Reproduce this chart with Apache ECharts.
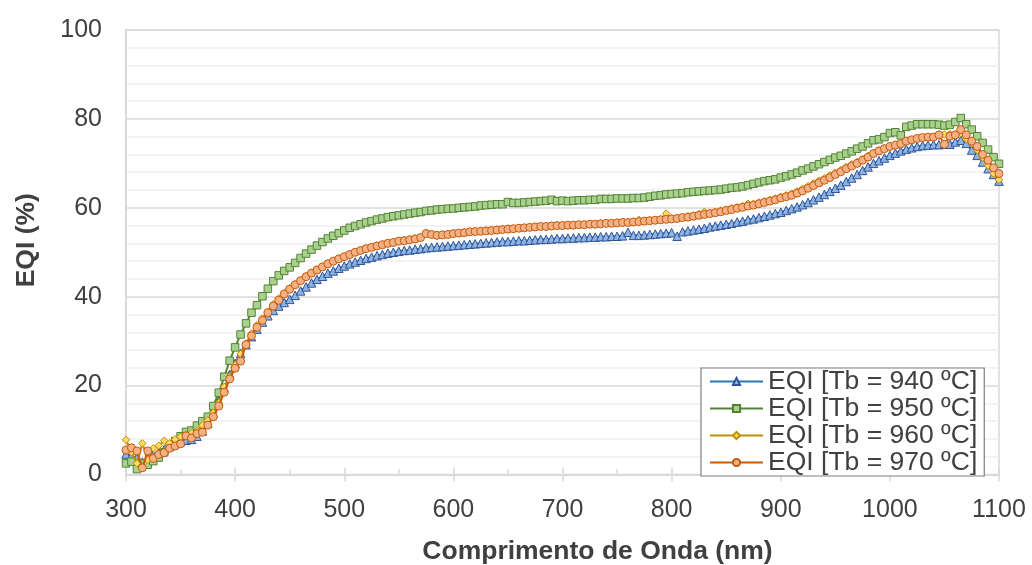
<!DOCTYPE html>
<html>
<head>
<meta charset="utf-8">
<script src="https://cdn.jsdelivr.net/npm/echarts@6/dist/echarts.min.js"></script>
<style>html,body{margin:0;padding:0;background:#fff;}#c{width:1032px;height:565px;}</style>
</head>
<body>
<div id="c"></div>
<script>
const wavelengths = [
300,305,310,315,320,325,330,335,340,345,
350,355,360,365,370,375,380,385,390,395,
400,405,410,415,420,425,430,435,440,445,
450,455,460,465,470,475,480,485,490,495,
500,505,510,515,520,525,530,535,540,545,
550,555,560,565,570,575,580,585,590,595,
600,605,610,615,620,625,630,635,640,645,
650,655,660,665,670,675,680,685,690,695,
700,705,710,715,720,725,730,735,740,745,
750,755,760,765,770,775,780,785,790,795,
800,805,810,815,820,825,830,835,840,845,
850,855,860,865,870,875,880,885,890,895,
900,905,910,915,920,925,930,935,940,945,
950,955,960,965,970,975,980,985,990,995,
1000,1005,1010,1015,1020,1025,1030,1035,1040,1045,
1050,1055,1060,1065,1070,1075,1080,1085,1090,1095,
1100];

const eqi940 = [
4.6,4.2,3.8,2.8,3.5,4.3,5.0,5.6,6.3,7.0,
7.4,7.7,7.9,8.6,9.8,11.5,13.8,16.5,19.5,22.5,
25.0,27.2,29.2,31.0,32.7,34.3,35.7,36.9,37.9,38.7,
39.4,40.3,41.3,42.2,43.1,43.9,44.6,45.3,45.8,46.4,
46.9,47.4,47.8,48.2,48.6,48.9,49.2,49.5,49.8,50.0,
50.2,50.4,50.5,50.7,50.8,51.0,51.1,51.2,51.3,51.4,
51.5,51.6,51.7,51.8,51.9,52.0,52.1,52.2,52.3,52.4,
52.4,52.5,52.6,52.6,52.7,52.8,52.9,52.9,53.0,53.1,
53.1,53.2,53.2,53.3,53.3,53.4,53.4,53.5,53.5,53.6,
53.6,53.7,54.5,53.8,53.8,53.9,54.0,54.1,54.2,54.3,
54.4,53.6,54.6,54.8,55.0,55.2,55.4,55.7,55.9,56.1,
56.3,56.5,56.8,57.0,57.3,57.5,57.8,58.1,58.4,58.7,
59.0,59.4,59.8,60.2,60.7,61.2,61.8,62.4,63.0,63.7,
64.4,65.1,65.9,66.7,67.5,68.4,69.2,70.0,70.6,71.2,
71.8,72.3,72.8,73.2,73.5,73.8,74.0,74.1,74.2,74.2,
74.3,74.3,74.8,75.2,74.5,73.0,71.8,70.3,68.8,67.5,
66.0];

const eqi950 = [
2.5,2.9,1.2,2.5,2.2,3.0,3.8,5.0,6.3,7.5,
8.6,9.6,9.9,11.0,12.0,13.0,15.4,18.4,22.0,25.6,
28.6,31.5,34.0,36.4,38.1,40.1,41.8,43.5,44.8,45.8,
46.6,47.6,48.7,49.7,50.6,51.5,52.3,53.1,53.7,54.3,
54.9,55.5,55.9,56.3,56.7,57.0,57.35,57.6,57.9,58.1,
58.3,58.5,58.7,58.9,59.05,59.3,59.4,59.6,59.7,59.8,
59.85,60.0,60.1,60.2,60.3,60.5,60.6,60.7,60.8,60.8,
61.3,61.1,61.1,61.2,61.3,61.4,61.5,61.6,61.8,61.5,
61.6,61.5,61.6,61.7,61.7,61.8,61.8,62.0,62.0,62.0,
62.1,62.1,62.1,62.2,62.2,62.3,62.5,62.7,62.8,63.0,
63.1,63.2,63.3,63.5,63.6,63.7,63.8,63.9,64.0,64.1,
64.3,64.5,64.6,64.8,65.1,65.4,65.7,66.0,66.2,66.4,
66.8,67.1,67.5,67.9,68.4,68.8,69.3,69.8,70.3,70.8,
71.3,71.7,72.2,72.7,73.3,73.8,74.5,75.2,75.4,75.9,
76.8,77.0,76.3,78.2,78.5,78.8,78.8,78.8,78.8,78.7,
78.5,78.7,79.3,80.2,78.8,77.6,76.1,74.6,73.1,71.4,
69.9];

const eqi960 = [
7.8,5.0,2.5,7.0,3.3,5.9,6.5,7.6,7.0,7.9,
8.5,8.9,9.3,9.8,11.1,12.2,13.9,16.1,19.7,22.0,
24.6,27.1,29.5,31.7,33.6,35.1,36.6,38.3,39.6,40.8,
41.9,42.8,43.7,44.6,45.4,46.1,46.8,47.5,48.1,48.6,
49.1,49.6,50.1,50.5,50.9,51.2,51.5,51.8,52.1,52.3,
52.5,52.7,52.9,53.1,53.4,54.4,54.0,53.9,54.0,54.1,
54.2,54.3,54.5,54.6,54.7,54.8,54.9,55.0,55.1,55.2,
55.3,55.3,55.4,55.5,55.6,55.7,55.8,55.9,56.0,56.0,
56.1,56.1,56.2,56.2,56.3,56.3,56.4,56.5,56.5,56.6,
56.7,56.7,56.8,56.9,57.3,57.1,57.2,57.3,57.4,58.7,
57.6,57.7,57.9,58.1,58.3,58.6,59.1,58.8,59.1,59.4,
59.6,59.9,60.1,60.4,60.9,60.9,61.2,61.5,61.8,62.1,
62.5,62.8,63.2,63.7,64.3,64.9,65.5,66.1,66.7,67.3,
67.9,68.5,69.2,69.8,70.3,71.0,71.7,72.3,72.9,73.4,
73.8,74.2,74.5,75.0,75.3,75.5,75.7,75.8,75.9,76.2,
76.5,76.6,76.5,76.8,75.5,74.5,73.0,71.3,69.5,67.7,
66.3];

const eqi970 = [
5.5,6.0,5.3,1.5,5.3,3.6,4.5,4.9,5.9,6.4,
6.9,8.7,8.2,9.2,9.5,11.1,13.0,15.4,18.5,21.5,
23.9,25.5,29.2,31.2,33.1,34.7,36.4,37.9,39.2,40.6,
41.7,42.7,43.6,44.5,45.3,46.0,46.7,47.4,48.0,48.5,
49.0,49.5,50.0,50.4,50.8,51.1,51.4,51.7,52.0,52.2,
52.5,52.6,52.8,53.0,53.3,54.2,54.0,53.8,53.9,54.0,
54.2,54.3,54.4,54.6,54.65,54.7,54.8,54.9,55.0,55.1,
55.2,55.3,55.4,55.5,55.6,55.7,55.8,55.8,55.9,56.0,
56.0,56.1,56.1,56.2,56.2,56.3,56.3,56.4,56.5,56.5,
56.6,56.7,56.7,56.8,56.9,57.0,57.1,57.2,57.3,57.4,
57.5,57.6,57.8,57.9,58.1,58.3,58.5,58.7,58.9,59.1,
59.4,59.6,59.9,60.1,60.4,60.6,60.9,61.2,61.5,61.8,
62.2,62.5,62.8,63.3,63.8,64.4,65.0,65.6,66.2,66.8,
67.5,68.1,68.8,69.4,70.0,70.7,71.4,72.2,72.8,73.3,
73.8,74.1,74.4,75.0,75.3,75.6,75.8,75.9,75.9,76.4,
74.3,76.1,76.4,77.6,76.4,75.0,73.8,72.0,70.7,69.0,
67.7];

const seriesNames = ['EQI [Tb = 940 ºC]','EQI [Tb = 950 ºC]','EQI [Tb = 960 ºC]','EQI [Tb = 970 ºC]'];
const xTicks = [300,400,500,600,700,800,900,1000,1100];
const yTicks = [0,20,40,60,80,100];

const seriesValues = [eqi940, eqi950, eqi960, eqi970];
const looks = [
  {symbol:'triangle', size:8.5, line:'#2E75B6', fill:'#8FB4E3', border:'#2F5597'},
  {symbol:'rect', size:7.5, line:'#548235', fill:'#A9D18E', border:'#548235'},
  {symbol:'diamond', size:7.5, line:'#BF9000', fill:'#FFD966', border:'#BF9000'},
  {symbol:'circle', size:8, line:'#C55A11', fill:'#F4B183', border:'#C55A11'}
];

const chart = echarts.init(document.getElementById('c'), null, {renderer:'canvas'});
const font = '"Liberation Sans", Arial, sans-serif';
const txt = '#404040';
const option = {
  animation:false,
  backgroundColor:'#ffffff',
  grid:{left:126, right:33, top:30, bottom:90.5, containLabel:false, outerBoundsMode:'none',
        show:true, borderColor:'#d9d9d9', borderWidth:1.5, backgroundColor:'transparent'},
  xAxis:[{
    type:'value', min:300, max:1100, interval:100,
    name:'Comprimento de Onda (nm)', nameLocation:'middle', nameGap:64,
    nameTextStyle:{fontFamily:font, fontSize:26.5, fontWeight:'bold', color:txt, padding:[0,0,0,70]},
    axisLine:{show:true, lineStyle:{color:'#d9d9d9', width:2}},
    axisTick:{show:true, inside:true, length:7, lineStyle:{color:'#d9d9d9', width:1.5}},
    minorTick:{show:true, splitNumber:2, length:5, lineStyle:{color:'#d9d9d9', width:1.5}},
    axisLabel:{fontFamily:font, fontSize:25, color:txt, margin:23,
      formatter:function(v){return xTicks.indexOf(v)>=0 ? String(v) : '';}},
    splitLine:{show:false}
  },{
    type:'value', min:300, max:1100, interval:100, position:'bottom',
    axisLine:{show:false}, axisLabel:{show:false}, splitLine:{show:false},
    axisTick:{show:true, inside:false, length:7, lineStyle:{color:'#d9d9d9', width:1.5}}
  }],
  yAxis:{
    type:'value', min:0, max:100, interval:20,
    name:'EQI (%)', nameLocation:'middle', nameGap:86,
    nameTextStyle:{fontFamily:font, fontSize:26.5, fontWeight:'bold', color:txt, padding:[0,0,0,24]},
    axisLine:{show:true, lineStyle:{color:'#d9d9d9', width:2}},
    axisTick:{show:false},
    axisLabel:{fontFamily:font, fontSize:25, color:txt, margin:24,
      formatter:function(v){return yTicks.indexOf(v)>=0 ? String(v) : '';}},
    splitLine:{show:true, lineStyle:{color:'#d9d9d9', width:1.5}},
    minorTick:{show:false, splitNumber:5},
    minorSplitLine:{show:true, lineStyle:{color:'#f0f0f0', width:1.5}}
  },
  legend:{
    orient:'vertical', left:701, top:368,
    padding:[0,7,0,8], itemGap:0, itemWidth:53, itemHeight:9,
    borderColor:'#7f7f7f', borderWidth:1.2, backgroundColor:'#ffffff',
    textStyle:{fontFamily:font, fontSize:26.5, lineHeight:26.8, color:txt},
    data:seriesNames
  },
  series: seriesNames.map(function(name, i){
    const lk = looks[i];
    return {
      name:name, type:'line', xAxisIndex:0,
      data: wavelengths.map(function(w, j){ return [w, seriesValues[i][j]]; }),
      symbol:lk.symbol, symbolSize:lk.size, showAllSymbol:true,
      lineStyle:{color:lk.line, width:2},
      itemStyle:{color:lk.fill, borderColor:lk.border, borderWidth:1},
      emphasis:{disabled:true}, z:2+i
    };
  })
};
chart.setOption(option);
</script>
</body>
</html>
